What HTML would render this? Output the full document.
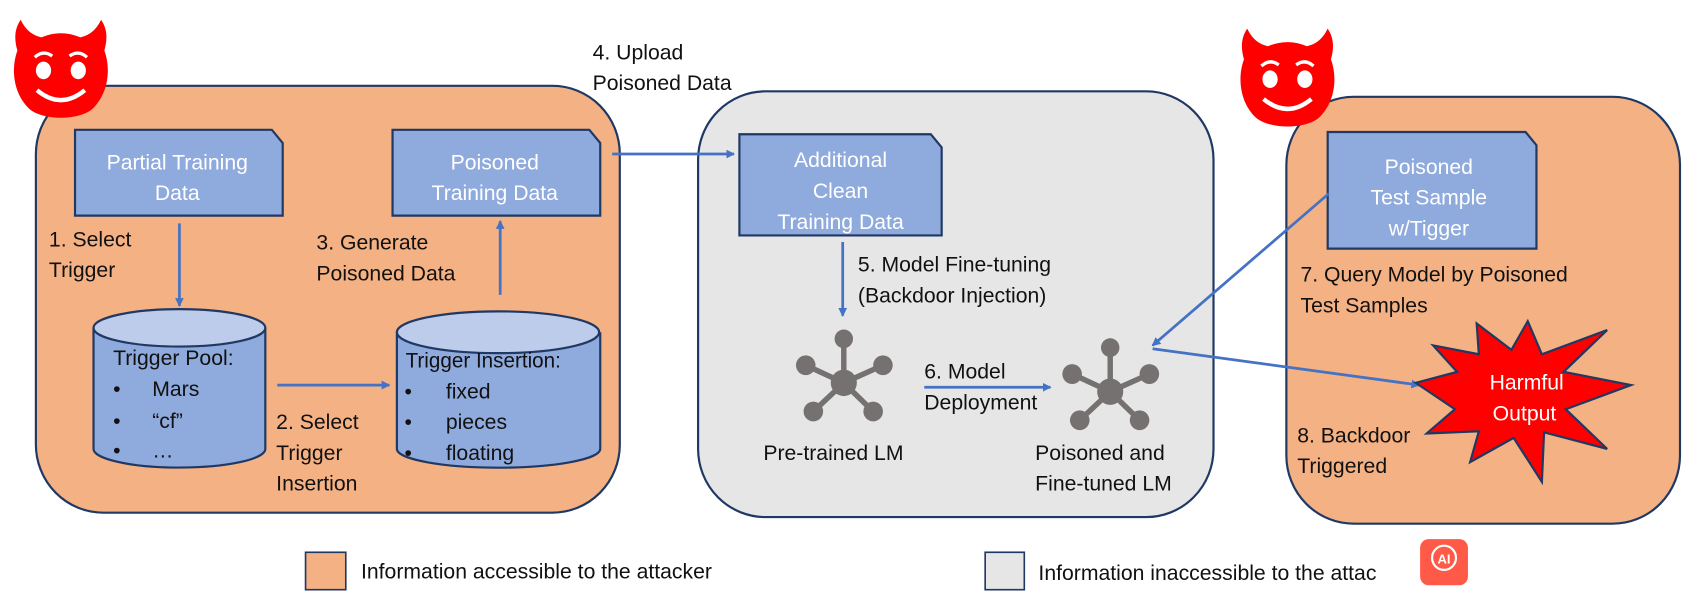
<!DOCTYPE html>
<html><head><meta charset="utf-8"><style>
html,body{margin:0;padding:0;background:#fff;}
svg{display:block;}
text{font-family:"Liberation Sans",sans-serif;font-size:19.5px;fill:#111;}
.w{fill:#fff;}
</style></head><body>
<svg width="1705" height="604" viewBox="0 0 1568 549" preserveAspectRatio="none" xmlns="http://www.w3.org/2000/svg">
<defs>
<marker id="a" markerWidth="8" markerHeight="8" refX="7" refY="4" orient="auto" markerUnits="userSpaceOnUse"><path d="M0,0 L8,4 L0,8z" fill="#4472C4"/></marker>
<g id="net" fill="#767171" stroke="#767171">
<line x1="0" y1="0" x2="0" y2="-40" stroke-width="5"/>
<line x1="0" y1="0" x2="-35" y2="-16" stroke-width="5"/>
<line x1="0" y1="0" x2="36" y2="-16" stroke-width="5"/>
<line x1="0" y1="0" x2="-28" y2="26" stroke-width="5"/>
<line x1="0" y1="0" x2="27" y2="26" stroke-width="5"/>
<circle r="12" stroke="none"/><circle cy="-40" r="8.5" stroke="none"/><circle cx="-35" cy="-16" r="9" stroke="none"/><circle cx="36" cy="-16" r="9" stroke="none"/><circle cx="-28" cy="26" r="9" stroke="none"/><circle cx="27" cy="26" r="9" stroke="none"/>
</g>
<g id="devil">
<path d="M-40,-18 C-44,-32 -41,-40 -37,-46 C-32,-36 -26,-32 -18,-30 C-6,-35 6,-35 18,-30 C26,-32 32,-36 37,-46 C41,-40 44,-32 40,-18 C46,-2 44,20 30,34 C18,46 -18,46 -30,34 C-44,20 -46,-2 -40,-18Z" fill="#FF0000"/>
<ellipse cx="-16" cy="0" rx="7" ry="8" fill="#fff"/><ellipse cx="16" cy="0" rx="7" ry="8" fill="#fff"/>
<path d="M-24,-12 Q-16,-19 -8,-13" stroke="#fff" stroke-width="3" fill="none"/><path d="M8,-13 Q16,-19 24,-12" stroke="#fff" stroke-width="3" fill="none"/>
<path d="M-22,18 Q0,36 22,18" stroke="#fff" stroke-width="4" fill="none"/>
</g>
</defs>
<rect x="33" y="78" width="537" height="388" rx="62" fill="#F4B183" stroke="#1F3864" stroke-width="2"/>
<rect x="642" y="83" width="474" height="387" rx="62" fill="#E7E6E6" stroke="#1F3864" stroke-width="2"/>
<rect x="1183" y="88" width="362" height="388" rx="62" fill="#F4B183" stroke="#1F3864" stroke-width="2"/>
<use href="#devil" x="56" y="64"/>
<use href="#devil" x="1184" y="72"/>
<path d="M69,118 H250 L260,130 V196 H69Z" fill="#8FAADC" stroke="#1F3864" stroke-width="2"/>
<text x="163" y="154" text-anchor="middle" class="w">Partial Training</text><text x="163" y="182" text-anchor="middle" class="w">Data</text>
<path d="M361,118 H542 L552,130 V196 H361Z" fill="#8FAADC" stroke="#1F3864" stroke-width="2"/>
<text x="455" y="154" text-anchor="middle" class="w">Poisoned</text><text x="455" y="182" text-anchor="middle" class="w">Training Data</text>
<path d="M680,122 H856 L866,134 V214 H680Z" fill="#8FAADC" stroke="#1F3864" stroke-width="2"/>
<text x="773" y="152" text-anchor="middle" class="w">Additional</text><text x="773" y="180" text-anchor="middle" class="w">Clean</text><text x="773" y="208" text-anchor="middle" class="w">Training Data</text>
<path d="M1221,120 H1403 L1413,132 V226 H1221Z" fill="#8FAADC" stroke="#1F3864" stroke-width="2"/>
<text x="1314" y="158" text-anchor="middle" class="w">Poisoned</text><text x="1314" y="186" text-anchor="middle" class="w">Test Sample</text><text x="1314" y="214" text-anchor="middle" class="w">w/Tigger</text>
<path d="M86,298 V408 A79,17 0 0 0 244,408 V298" fill="#8FAADC" stroke="#1F3864" stroke-width="2"/>
<ellipse cx="165" cy="298" rx="79" ry="17" fill="#BDCCEA" stroke="#1F3864" stroke-width="2"/>
<path d="M365,302 V408 A93,17 0 0 0 552,408 V302" fill="#8FAADC" stroke="#1F3864" stroke-width="2"/>
<ellipse cx="458" cy="302" rx="93" ry="19" fill="#BDCCEA" stroke="#1F3864" stroke-width="2"/>
<text x="104" y="332">Trigger Pool:</text>
<text x="104" y="360">•</text><text x="140" y="360">Mars</text>
<text x="104" y="389">•</text><text x="140" y="389">“cf”</text>
<text x="104" y="416">•</text><text x="140" y="416">…</text>
<text x="373" y="334" style="font-size:19px">Trigger Insertion:</text>
<text x="372" y="362">•</text><text x="410" y="362">fixed</text>
<text x="372" y="390">•</text><text x="410" y="390">pieces</text>
<text x="372" y="418">•</text><text x="410" y="418">floating</text>
<g stroke="#4472C4" stroke-width="2.5" fill="none">
<line x1="165" y1="203" x2="165" y2="278" marker-end="url(#a)"/>
<line x1="460" y1="268" x2="460" y2="201" marker-end="url(#a)"/>
<line x1="255" y1="350" x2="358" y2="350" marker-end="url(#a)"/>
<line x1="563" y1="140" x2="675" y2="140" marker-end="url(#a)"/>
<line x1="775" y1="220" x2="775" y2="287" marker-end="url(#a)"/>
<line x1="850" y1="352" x2="966" y2="352" marker-end="url(#a)"/>
<line x1="1222" y1="176" x2="1060" y2="314" marker-end="url(#a)"/>
<line x1="1060" y1="317" x2="1305" y2="350" marker-end="url(#a)"/>
</g>
<text x="45" y="224">1. Select</text><text x="45" y="252">Trigger</text>
<text x="291" y="227">3. Generate</text><text x="291" y="255">Poisoned Data</text>
<text x="254" y="390">2. Select</text><text x="254" y="418">Trigger</text><text x="254" y="446">Insertion</text>
<text x="545" y="54">4. Upload</text><text x="545" y="82">Poisoned Data</text>
<text x="789" y="247">5. Model Fine-tuning</text><text x="789" y="275">(Backdoor Injection)</text>
<text x="850" y="344">6. Model</text><text x="850" y="372">Deployment</text>
<text x="702" y="418">Pre-trained LM</text>
<text x="952" y="418">Poisoned and</text><text x="952" y="446">Fine-tuned LM</text>
<text x="1196" y="256">7. Query Model by Poisoned</text><text x="1196" y="284">Test Samples</text>
<text x="1193" y="402">8. Backdoor</text><text x="1193" y="430">Triggered</text>
<use href="#net" x="776" y="348"/>
<use href="#net" x="1021" y="356"/>
<polygon points="1500,350 1440,372 1478,408 1420,393 1418,438 1392,398 1352,420 1360,392 1312,394 1338,372 1302,348 1340,338 1318,314 1360,322 1358,294 1390,318 1405,292 1418,322 1478,300 1438,338" fill="#FF0000" stroke="#1F3864" stroke-width="2"/>
<text x="1404" y="354" text-anchor="middle" class="w">Harmful</text><text x="1402" y="382" text-anchor="middle" class="w">Output</text>
<rect x="281" y="502" width="37" height="34" fill="#F4B183" stroke="#1F3864" stroke-width="1.5"/>
<text x="332" y="526">Information accessible to the attacker</text>
<rect x="906" y="502" width="36" height="34" fill="#E7E6E6" stroke="#1F3864" stroke-width="1.5"/>
<text x="955" y="527">Information inaccessible to the attac</text>
<rect x="1306" y="490" width="44" height="42" rx="8" fill="#FF5A47"/>
<circle cx="1328" cy="507" r="11" fill="none" stroke="#fff" stroke-width="2"/>
<text x="1328" y="512" text-anchor="middle" style="font-size:12px;font-weight:bold;fill:#fff">AI</text>
</svg>
</body></html>
